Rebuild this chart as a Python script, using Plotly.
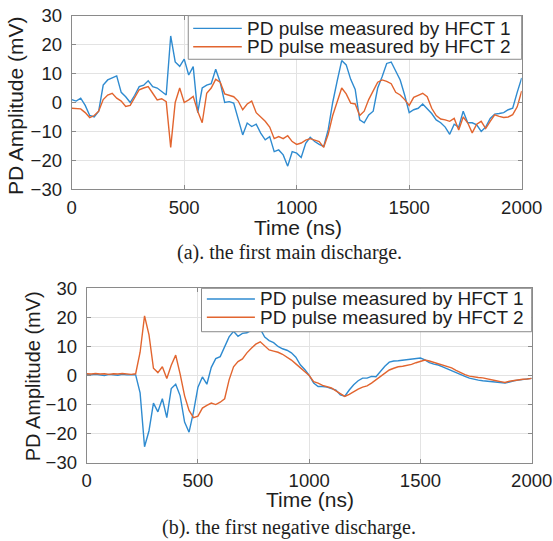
import plotly.graph_objects as go

# ---------------- data ----------------
TIME_NS = list(range(0, 2001, 20))

# (a) first main discharge
A_HFCT1 = [1.0, 0.5, 1.5, -1.0, -4.5, -5.0, -3.0, 6.0, 7.8, 8.5,
           9.2, 3.5, 2.0, 0.0, 2.5, 5.5, 6.0, 7.5, 5.5, 5.0,
           3.8, 2.6, 23.0, 14.0, 12.5, 15.0, 9.5, 12.4, -3.5, 5.0,
           6.0, 6.5, 11.5, 7.0, 0.0, 0.3, -0.2, -6.0, -11.2, -7.1,
           -8.3, -7.5, -10.6, -12.9, -11.8, -17.0, -16.4, -18.1, -22.0, -17.0,
           -17.5, -19.0, -14.1, -12.0, -13.5, -14.5, -15.2, -9.4, 0.0, 7.5,
           14.5, 13.0, 8.0, 4.5, -6.0, -7.0, -4.3, -3.0, 5.0, 9.0,
           13.5, 14.0, 11.0, 7.8, 2.5, -3.5, -2.5, -2.0, -0.5, -2.0,
           -3.8, -6.0, -7.0, -8.5, -11.0, -7.5, -8.5, -3.0, -7.0, -7.0,
           -7.7, -10.0, -8.5, -5.5, -4.0, -3.8, -3.5, -2.5, -2.0, 3.5,
           8.5]
A_HFCT2 = [-2.0, -2.0, -2.2, -3.5, -5.2, -4.5, -3.0, 1.0, 2.6, 3.2,
           1.5, 0.5, -1.4, -1.0, 1.5, 4.4, 5.0, 5.5, 3.2, 0.9,
           1.3, 0.3, -15.5, 0.0, 5.0, 0.0, 0.9, 2.1, -3.0, -7.0,
           3.2, 5.0, 8.0, 7.0, 3.0, 2.5, 2.0, 0.5, -2.5, -0.5,
           0.5, -3.5, -5.0, -6.5, -8.5, -12.5, -11.8, -12.5, -11.5, -13.5,
           -14.5, -14.0, -13.0, -12.5, -13.0, -13.5, -15.5, -11.0, -4.5, 0.0,
           5.0, 3.0, -0.2, -0.5, -4.5, -3.0, 1.0, 4.0, 7.0, 7.8,
           7.3, 6.5, 3.5, 2.6, 1.0, -1.0, 1.8, 2.5, 3.2, 2.0,
           -2.0, -4.5, -5.7, -6.0, -6.5, -5.5, -9.5, -5.0, -7.0, -10.5,
           -7.5, -6.5, -9.0, -6.5, -4.3, -4.8, -5.2, -5.0, -4.2, -1.5,
           4.0]

# (b) first negative discharge
B_HFCT1 = [0.3, 0.2, 0.4, 0.3, 0.0, 0.4, 0.3, 0.1, 0.4, 0.2,
           0.3, 0.2, -6.0, -24.5, -19.0, -9.5, -12.5, -8.0, -14.5, -4.5,
           -3.0, -7.0, -16.0, -19.5, -12.5, -4.0, -0.5, -3.0, 2.8, 5.8,
           6.5, 9.8, 13.3, 15.2, 13.5, 14.5, 14.7, 15.5, 16.2, 16.0,
           13.2, 12.0, 11.3, 10.0, 9.2, 8.7, 7.8, 6.3, 3.7, 2.1,
           0.0, -2.6, -3.8, -3.8, -4.0, -4.5, -5.0, -6.7, -7.1, -5.0,
           -3.2, -1.8, -0.9, -0.9, -0.3, -0.4, 1.4, 3.2, 4.6, 5.0,
           5.1, 5.3, 5.5, 5.7, 6.0, 6.0, 5.4, 4.4, 3.9, 3.6,
           3.0, 2.3, 1.7, 0.9, 0.3, -0.3, -0.9, -1.3, -1.6, -1.8,
           -2.0, -2.1, -2.3, -2.4, -2.6, -2.3, -1.8, -1.6, -1.4, -1.2,
           -1.0]
B_HFCT2 = [0.6, 0.5, 0.7, 0.5, 0.6, 0.4, 0.6, 0.5, 0.7, 0.5,
           0.4, 0.6, 8.0, 20.5, 14.0, 2.5, 1.0, 3.0, -1.0, 3.5,
           7.0, 0.5, -7.0, -12.0, -14.5, -14.0, -11.2, -10.3, -9.5, -10.0,
           -9.2, -8.0, -1.5, 3.0, 4.8, 5.7, 7.8, 9.4, 10.8, 11.6,
           10.2, 8.8, 8.4, 8.0, 7.3, 6.4, 5.3, 4.0, 2.6, 1.2,
           0.0, -2.1, -2.6, -3.4, -3.8, -4.3, -5.3, -6.4, -7.2, -6.5,
           -5.5, -4.7, -4.0, -3.6, -2.6, -1.4, -0.2, 1.0, 1.9, 2.5,
           3.0, 3.2, 3.4, 3.8, 4.4, 4.9, 5.3, 5.0, 4.5, 4.1,
           3.7, 3.2, 2.6, 1.8, 1.0, 0.3, -0.2, -0.5, -0.7, -0.8,
           -1.2, -1.5, -1.8, -2.1, -2.4, -2.0, -1.7, -1.4, -1.3, -1.2,
           -1.0]

SERIES_NAMES = ["PD pulse measured by HFCT 1", "PD pulse measured by HFCT 2"]
X_TICKS = [0, 500, 1000, 1500, 2000]
Y_TICKS = [-30, -20, -10, 0, 10, 20, 30]
X_TITLE = "Time (ns)"
Y_TITLE = "PD Amplitude (mV)"
CAPTIONS = ["(a). the first main discharge.", "(b). the first negative discharge."]

# ---------------- style ----------------
W, H = 553, 541
BLUE = "#2f8bd0"
ORANGE = "#e2652f"
FRAME = "#8a8a8a"
GRID = "#e3e3e3"
TXT = "#1e1e1e"
SANS = "Liberation Sans, Arial, sans-serif"
SERIF = "Liberation Serif, Times New Roman, serif"

fig = go.Figure()

panels = [
    dict(x="x", y="y", s1=A_HFCT1, s2=A_HFCT2),
    dict(x="x2", y="y2", s1=B_HFCT1, s2=B_HFCT2),
]
for p in panels:
    fig.add_trace(go.Scatter(x=TIME_NS, y=p["s1"], mode="lines", name=SERIES_NAMES[0],
                             line=dict(color=BLUE, width=1.4), xaxis=p["x"], yaxis=p["y"],
                             showlegend=False, hoverinfo="skip"))
    fig.add_trace(go.Scatter(x=TIME_NS, y=p["s2"], mode="lines", name=SERIES_NAMES[1],
                             line=dict(color=ORANGE, width=1.4), xaxis=p["x"], yaxis=p["y"],
                             showlegend=False, hoverinfo="skip"))

def px_x(v):
    return v / W

def px_y(v):
    return 1 - v / H

axis_common = dict(showline=True, linecolor=FRAME, linewidth=1, mirror="ticks",
                   ticks="inside", ticklen=4, tickcolor=FRAME, showgrid=True,
                   gridcolor=GRID, gridwidth=1, zeroline=False, automargin=False,
                   tickfont=dict(family=SANS, size=18.5, color=TXT))

fig.update_layout(
    width=W, height=H, autosize=False, margin=dict(l=0, r=0, t=0, b=0, pad=0, autoexpand=False),
    paper_bgcolor="white", plot_bgcolor="white", showlegend=False,
    xaxis=dict(domain=[px_x(71.7), px_x(521.7)], anchor="y", range=[0, 2000],
               tickvals=X_TICKS, ticklabelstandoff=1, **axis_common),
    yaxis=dict(domain=[px_y(189.3), px_y(15.7)], anchor="x", range=[-30, 30],
               tickvals=Y_TICKS, ticklabelstandoff=5, **axis_common),
    xaxis2=dict(domain=[px_x(86.7), px_x(531.7)], anchor="y2", range=[0, 2000],
                tickvals=X_TICKS, ticklabelstandoff=1, **axis_common),
    yaxis2=dict(domain=[px_y(462.7), px_y(288.3)], anchor="x2", range=[-30, 30],
                tickvals=Y_TICKS, ticklabelstandoff=5, **axis_common),
)

shapes = []
annotations = []

# manual legends (box, line samples, labels)
legends = [
    dict(xr="x domain", yr="y domain", x0=0.259, yb=0.749, lx0=0.270, lx1=0.378, tx=0.385,
         rows=[0.927, 0.821]),
    dict(xr="x2 domain", yr="y2 domain", x0=0.258, yb=0.751, lx0=0.270, lx1=0.378, tx=0.386,
         rows=[0.939, 0.834]),
]
for lg in legends:
    shapes.append(dict(type="rect", xref=lg["xr"], yref=lg["yr"], x0=lg["x0"], x1=1,
                       y0=lg["yb"], y1=1, fillcolor="white", line=dict(color=FRAME, width=1),
                       layer="above"))
    for name, col, ry in zip(SERIES_NAMES, [BLUE, ORANGE], lg["rows"]):
        shapes.append(dict(type="line", xref=lg["xr"], yref=lg["yr"], x0=lg["lx0"], x1=lg["lx1"],
                           y0=ry, y1=ry, line=dict(color=col, width=1.4), layer="above"))
        annotations.append(dict(text=name, xref=lg["xr"], yref=lg["yr"], x=lg["tx"], y=ry,
                                xanchor="left", yanchor="middle", showarrow=False,
                                font=dict(family=SANS, size=19, color=TXT)))

# axis titles and captions
annotations += [
    dict(text=Y_TITLE, x=px_x(15), y=px_y(106), textangle=-90, font=dict(family=SANS, size=21, color=TXT)),
    dict(text=X_TITLE, x=px_x(298), y=px_y(227.5), font=dict(family=SANS, size=21, color=TXT)),
    dict(text=CAPTIONS[0], x=px_x(289.7), y=px_y(252), font=dict(family=SERIF, size=20, color=TXT)),
    dict(text=Y_TITLE, x=px_x(33.3), y=px_y(376), textangle=-90, font=dict(family=SANS, size=20, color=TXT)),
    dict(text=X_TITLE, x=px_x(310), y=px_y(499), font=dict(family=SANS, size=21, color=TXT)),
    dict(text=CAPTIONS[1], x=px_x(289), y=px_y(527), font=dict(family=SERIF, size=20, color=TXT)),
]
for a in annotations[-6:]:
    a.update(xref="paper", yref="paper", xanchor="center", yanchor="middle", showarrow=False)

fig.update_layout(shapes=shapes, annotations=annotations)
fig.write_html("out.html",
               config={"responsive": False, "displayModeBar": False},
               post_script="document.body.style.margin='0';document.body.style.overflow='hidden';")
